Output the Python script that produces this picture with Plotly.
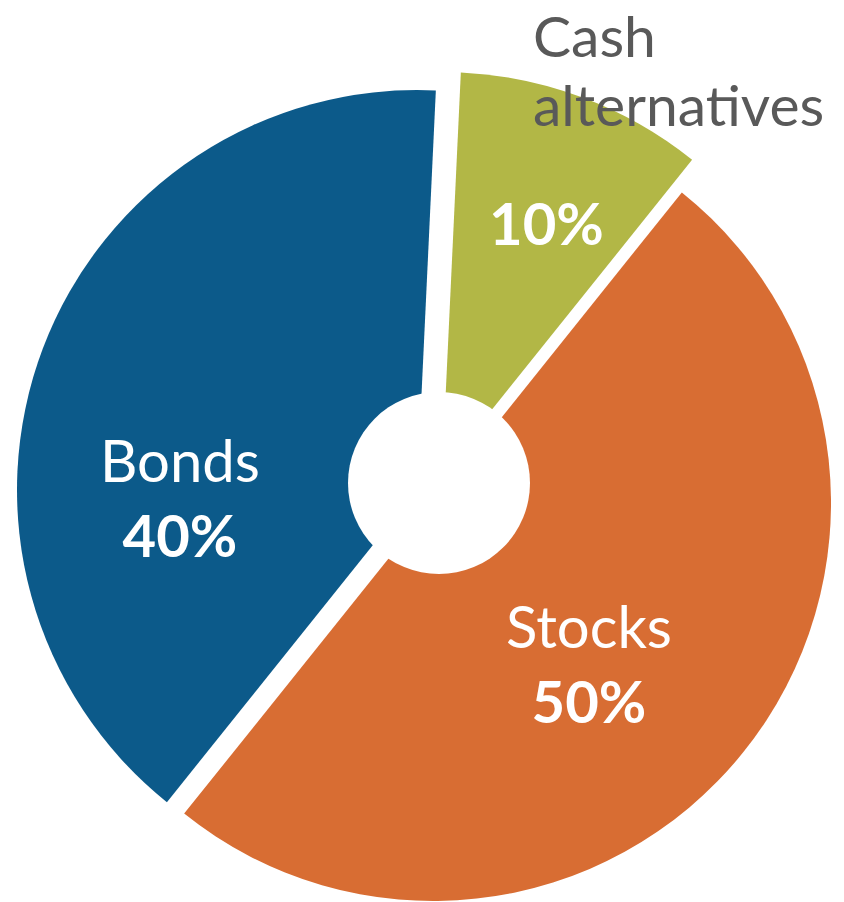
import plotly.graph_objects as go

# ---- data ----
labels = ["Cash alternatives", "Stocks", "Bonds"]
shares = [10, 50, 40]
colors = ["#B2B746", "#D86D33", "#0C5A8A"]

W, H = 844, 902
# exploded slice apex positions and radii (px, from top-left)
apex = {"Cash alternatives": (442, 472, 400), "Stocks": (433, 503, 398), "Bonds": (417, 490, 400)}
hole_c, hole_r = (439, 483), 91

fig = go.Figure()
for i, lab in enumerate(labels):
    ax, ay, R = apex[lab]
    cols = ["rgba(0,0,0,0)"] * len(labels)
    cols[i] = colors[i]
    fig.add_trace(go.Pie(
        labels=labels, values=shares, sort=False, direction="clockwise",
        rotation=2.7, marker=dict(colors=cols, line=dict(width=0)),
        textinfo="none", hoverinfo="skip", showlegend=False,
        domain=dict(x=[max(0, (ax - R) / W), min(1, (ax + R) / W)],
                    y=[max(0, 1 - (ay + R) / H), min(1, 1 - (ay - R) / H)]),
    ))

FONT = "Lato"
def px(x, y):
    return x / W, 1 - y / H

annos = []
# Bonds
x, y = px(180, 497)
annos.append(dict(x=x, y=y, text=f"{labels[2]}<br><b>{shares[2]}%</b>", showarrow=False,
                  xanchor="center", yanchor="middle", font=dict(family=FONT, size=58, color="white")))
# Stocks
x, y = px(589, 663)
annos.append(dict(x=x, y=y, text=f"{labels[1]}<br><b>{shares[1]}%</b>", showarrow=False,
                  xanchor="center", yanchor="middle", font=dict(family=FONT, size=58, color="white")))
# Cash pct
x, y = px(546, 223)
annos.append(dict(x=x, y=y, text=f"<b>{shares[0]}%</b>", showarrow=False,
                  xanchor="center", yanchor="middle", font=dict(family=FONT, size=58, color="white")))
# Cash label (two lines, tight spacing)
for word, yc in zip(labels[0].split(" "), [35, 104]):
    x, y = px(532, yc)
    annos.append(dict(x=x, y=y, text=word, showarrow=False, align="left", borderpad=0,
                      xanchor="left", yanchor="middle", font=dict(family=FONT, size=57, color="#595959")))

fig.update_layout(
    width=W, height=H, margin=dict(l=0, r=0, t=0, b=0),
    paper_bgcolor="white", plot_bgcolor="white", showlegend=False,
    annotations=annos,
    shapes=[dict(type="circle", xref="paper", yref="paper", layer="above",
                 x0=(hole_c[0] - hole_r) / W, x1=(hole_c[0] + hole_r) / W,
                 y0=1 - (hole_c[1] + hole_r) / H, y1=1 - (hole_c[1] - hole_r) / H,
                 fillcolor="white", line=dict(width=0))],
)
fig.write_html("out.html")
